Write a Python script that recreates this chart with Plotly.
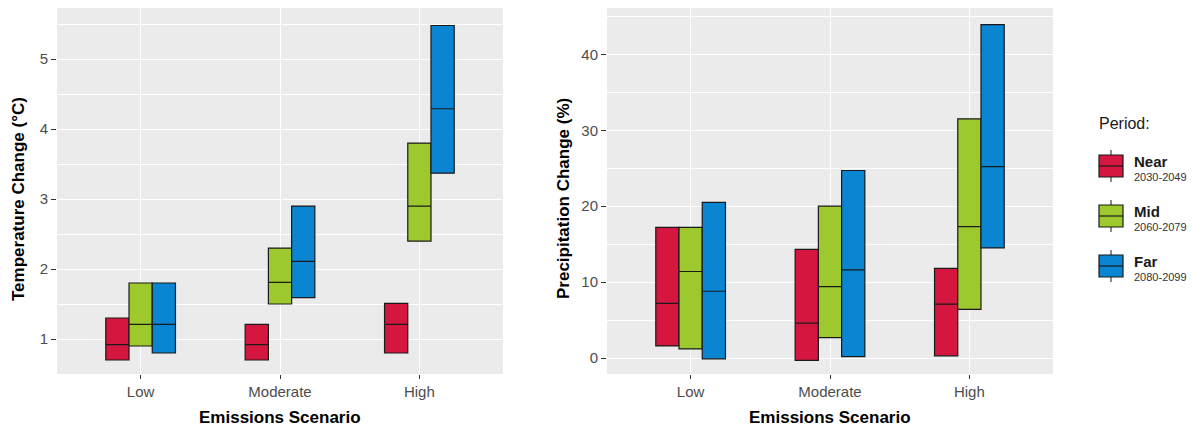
import plotly.graph_objects as go

# The page body has an 8px margin, so the figure is sized to fill the rest of the window.
OFF = 8
W, H = 1195 - OFF, 428 - OFF

scenarios = ["Low", "Moderate", "High"]
periods = ["Near", "Mid", "Far"]
period_years = ["2030-2049", "2060-2079", "2080-2099"]
period_colors = ["#D5173F", "#9DC92F", "#0A85D2"]

# Temperature change (°C): lower edge, median, upper edge per scenario
temp_near_lo = [0.70, 0.70, 0.80]
temp_near_med = [0.92, 0.92, 1.21]
temp_near_hi = [1.30, 1.21, 1.51]
temp_mid_lo = [0.90, 1.50, 2.40]
temp_mid_med = [1.21, 1.81, 2.90]
temp_mid_hi = [1.80, 2.30, 3.80]
temp_far_lo = [0.80, 1.59, 3.37]
temp_far_med = [1.21, 2.11, 4.29]
temp_far_hi = [1.80, 2.90, 5.48]

# Precipitation change (%)
precip_near_lo = [1.6, -0.3, 0.3]
precip_near_med = [7.2, 4.6, 7.1]
precip_near_hi = [17.2, 14.3, 11.8]
precip_mid_lo = [1.2, 2.7, 6.4]
precip_mid_med = [11.4, 9.4, 17.3]
precip_mid_hi = [17.2, 20.0, 31.5]
precip_far_lo = [-0.1, 0.2, 14.5]
precip_far_med = [8.8, 11.6, 25.2]
precip_far_hi = [20.5, 24.7, 43.9]

temp_stats = [
    (temp_near_lo, temp_near_med, temp_near_hi),
    (temp_mid_lo, temp_mid_med, temp_mid_hi),
    (temp_far_lo, temp_far_med, temp_far_hi),
]
precip_stats = [
    (precip_near_lo, precip_near_med, precip_near_hi),
    (precip_mid_lo, precip_mid_med, precip_mid_hi),
    (precip_far_lo, precip_far_med, precip_far_hi),
]

FONT = "Liberation Sans, Arial, Helvetica, sans-serif"
LINE = "#1a1a1a"

fig = go.Figure()

for panel, axes, stats in (("temp", ("x", "y"), temp_stats), ("precip", ("x2", "y2"), precip_stats)):
    for name, col, (lo, med, hi) in zip(periods, period_colors, stats):
        fig.add_trace(go.Box(
            x=scenarios, q1=lo, median=med, q3=hi,
            lowerfence=lo, upperfence=hi,
            name=name, fillcolor=col,
            line=dict(color=LINE, width=1.2),
            whiskerwidth=0, boxpoints=False,
            showlegend=False, hoverinfo="skip",
            alignmentgroup=panel, offsetgroup=name,
            xaxis=axes[0], yaxis=axes[1],
        ))

def px(x):
    return (x - OFF) / W

def py(y):
    return 1 - (y - OFF) / H

ydom = [py(374), py(8)]

common_x = dict(
    type="category", categoryorder="array", categoryarray=scenarios,
    range=[-0.6, 2.6], showgrid=True, gridcolor="white", gridwidth=1.2,
    ticks="outside", ticklen=4, tickwidth=1, tickcolor="#333333",
    tickfont=dict(family=FONT, size=15, color="#4D4D4D"),
    showline=False, zeroline=False, fixedrange=True,
)
common_y = dict(
    showgrid=True, gridcolor="white", gridwidth=1.2,
    ticks="outside", ticklen=5, tickwidth=1, tickcolor="#333333",
    tickfont=dict(family=FONT, size=15, color="#4D4D4D"),
    showline=False, zeroline=False, fixedrange=True,
)

fig.update_layout(
    width=W, height=H,
    margin=dict(l=0, r=0, t=0, b=0),
    paper_bgcolor="white", plot_bgcolor="#EBEBEB",
    boxmode="group", boxgap=0.5, boxgroupgap=0,
    xaxis=dict(domain=[px(57), px(503)], anchor="y", **common_x),
    yaxis=dict(domain=ydom, anchor="x", range=[0.5, 5.73], tick0=0, dtick=1,
               minor=dict(dtick=0.5, tick0=0, showgrid=True, gridcolor="white", gridwidth=0.6),
               **common_y),
    xaxis2=dict(domain=[px(607), px(1053)], anchor="y2", **common_x),
    yaxis2=dict(domain=ydom, anchor="x2", range=[-2.1, 46.1], tick0=0, dtick=10,
                minor=dict(dtick=5, tick0=0, showgrid=True, gridcolor="white", gridwidth=0.6),
                **common_y),
    font=dict(family=FONT),
)

annotations = []
# Axis titles
for xc in (280, 830):
    annotations.append(dict(
        x=px(xc), y=py(417), xref="paper", yref="paper", text="<b>Emissions Scenario</b>",
        showarrow=False, xanchor="center", yanchor="middle",
        font=dict(family=FONT, size=17, color="black"),
    ))
for xc, title in ((19, "Temperature Change (°C)"), (564, "Precipitation Change (%)")):
    annotations.append(dict(
        x=px(xc), y=py(199), xref="paper", yref="paper", text="<b>" + title + "</b>",
        showarrow=False, xanchor="center", yanchor="middle", textangle=-90,
        font=dict(family=FONT, size=17, color="black"),
    ))

# Legend (drawn manually)
annotations.append(dict(
    x=px(1097), y=py(123), xref="paper", yref="paper", text="Period:",
    showarrow=False, xanchor="left", yanchor="middle",
    font=dict(family=FONT, size=16, color="#1a1a1a"),
))
shapes = []
key_centers = [166, 216, 266]
for name, yrs, col, yc in zip(periods, period_years, period_colors, key_centers):
    shapes.append(dict(type="line", xref="paper", yref="paper",
                       x0=px(1111), x1=px(1111), y0=py(yc - 16), y1=py(yc + 16),
                       line=dict(color=LINE, width=1)))
    shapes.append(dict(type="rect", xref="paper", yref="paper",
                       x0=px(1099), x1=px(1123), y0=py(yc - 11), y1=py(yc + 11),
                       fillcolor=col, line=dict(color=LINE, width=1.2)))
    shapes.append(dict(type="line", xref="paper", yref="paper",
                       x0=px(1099), x1=px(1123), y0=py(yc), y1=py(yc),
                       line=dict(color=LINE, width=1.2)))
    annotations.append(dict(
        x=px(1132), y=py(yc - 5), xref="paper", yref="paper", text="<b>" + name + "</b>",
        showarrow=False, xanchor="left", yanchor="middle",
        font=dict(family=FONT, size=15, color="#1a1a1a"),
    ))
    annotations.append(dict(
        x=px(1132), y=py(yc + 11), xref="paper", yref="paper", text=yrs,
        showarrow=False, xanchor="left", yanchor="middle",
        font=dict(family=FONT, size=11, color="#333333"),
    ))

fig.update_layout(annotations=annotations, shapes=shapes)

fig.write_html("out.html")
